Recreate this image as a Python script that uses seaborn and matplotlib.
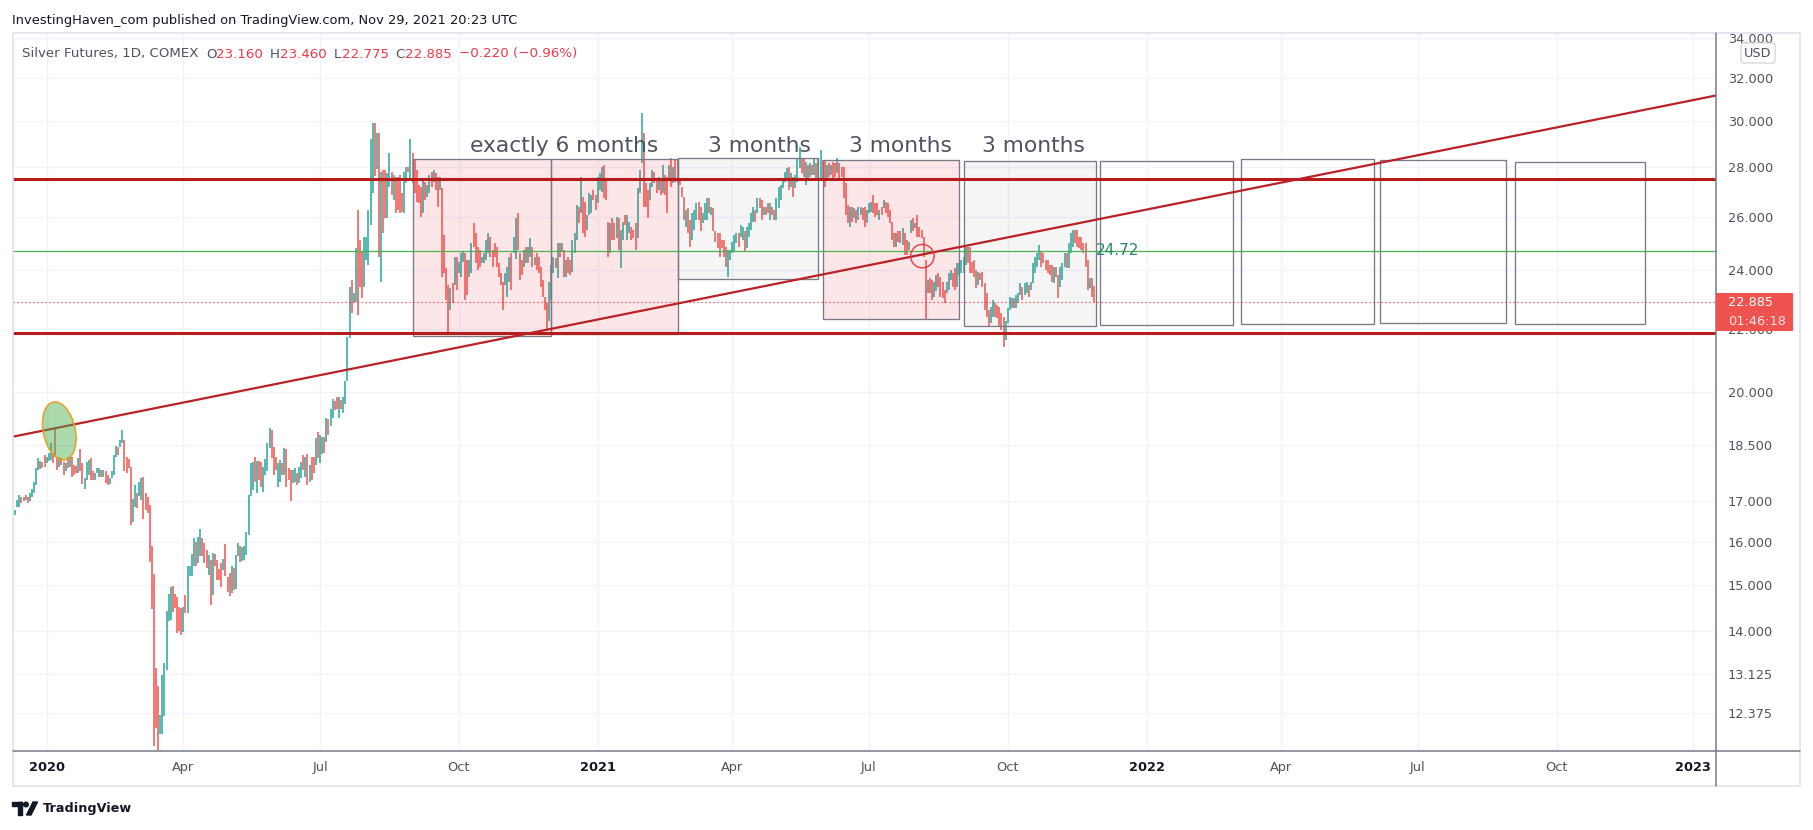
"""
Silver futures daily chart (TradingView snapshot) with the 3-month boxes,
support / resistance levels and the rising trendline.
"""

import numpy as np
import pandas as pd
import matplotlib
matplotlib.use("Agg")
import matplotlib.pyplot as plt
import matplotlib.patches as mpatches
import matplotlib.transforms as mtransforms
from matplotlib.lines import Line2D
from matplotlib.ticker import FixedLocator, NullLocator
import seaborn as sns

# ── Data: daily bars (open, close) ──────────────────────────────────────
dec19 = [(16.65, 16.78), (16.86, 17.03), (16.86, 17.15), (17.10, 16.95), (17.00, 17.11),
         (17.15, 17.03), (17.10, 16.94), (17.00, 17.20), (17.11, 17.30), (17.20, 17.50),
         (17.42, 17.86), (17.81, 18.12), (18.05, 17.83), (17.85, 18.03), (18.20, 17.90)]
jan20 = [(17.99, 18.17), (18.04, 18.26), (18.08, 18.54), (18.26, 17.99), (18.95, 18.15),
         (18.17, 17.81), (17.90, 18.17), (18.12, 17.95), (18.03, 17.68), (17.77, 17.99),
         (18.17, 17.86), (17.90, 18.17), (18.17, 17.63), (17.95, 17.68), (17.92, 17.74),
         (17.72, 18.12), (18.38, 17.77), (17.99, 17.44), (17.30, 17.59), (17.55, 18.03),
         (17.68, 18.08), (18.12, 17.55), (17.77, 17.55)]
feb20 = [(17.55, 17.72), (17.72, 17.86), (17.63, 17.86), (17.81, 17.63), (17.63, 17.81),
         (17.77, 17.46), (17.68, 17.42), (17.45, 17.60), (17.59, 17.78), (17.68, 18.21),
         (18.15, 18.47), (18.44, 18.21), (18.44, 18.63), (18.54, 18.91), (18.63, 17.77),
         (18.17, 17.72), (18.10, 17.85), (17.90, 16.41), (16.47, 17.05), (16.86, 17.42)]
mar20 = [(17.20, 16.82), (17.14, 17.48), (17.03, 17.59), (17.63, 16.55), (17.21, 16.78),
         (17.11, 16.69), (16.90, 15.53), (15.90, 14.47), (15.25, 11.78), (13.24, 12.11),
         (12.90, 11.72), (12.01, 12.35), (12.01, 13.11), (12.32, 13.34), (13.20, 14.43),
         (14.20, 14.80), (14.23, 14.95), (14.97, 14.41), (14.80, 14.49), (14.72, 13.95),
         (14.52, 14.00), (14.48, 13.92)]
apr20 = [(13.98, 14.50), (14.78, 14.38), (14.38, 15.42), (15.20, 15.43), (15.19, 15.70),
         (15.42, 16.08), (15.98, 15.42), (15.50, 16.10), (15.65, 16.30), (16.08, 15.65),
         (15.96, 15.50), (15.80, 15.38), (15.22, 15.68), (15.57, 14.56), (14.78, 15.73),
         (15.71, 15.42), (15.57, 15.11), (15.37, 15.11), (15.50, 14.95), (15.33, 15.60),
         (15.94, 15.19), (15.17, 14.85)]
may20 = [(15.26, 14.76), (14.81, 15.42), (15.38, 14.88), (14.90, 15.69), (15.65, 15.96),
         (15.90, 15.51), (15.55, 15.88), (15.57, 15.90), (15.69, 16.24), (16.16, 17.15),
         (17.13, 17.99), (17.28, 18.03), (18.17, 17.50), (17.20, 18.05), (18.05, 17.55),
         (18.03, 17.35), (17.24, 17.88), (17.68, 18.10), (17.77, 18.54), (18.40, 18.95),
         (18.91, 18.12)]
jun20 = [(18.44, 17.68), (18.17, 17.81), (17.37, 17.99), (17.50, 18.08), (17.99, 17.68),
         (17.68, 18.40), (18.38, 17.37), (17.86, 17.55), (17.81, 17.01), (17.46, 17.81),
         (17.50, 17.86), (17.72, 17.42), (17.46, 17.90), (17.59, 18.03), (18.20, 17.81),
         (17.63, 18.17), (18.24, 17.42), (17.50, 17.95), (18.17, 17.55), (18.17, 17.72),
         (17.95, 18.67), (18.84, 18.12)]
jul20 = [(18.01, 18.77), (18.24, 18.72), (18.72, 18.26), (18.58, 19.24), (19.21, 18.77),
         (19.02, 19.50), (19.25, 19.80), (19.74, 19.47), (19.85, 19.51), (19.25, 19.85),
         (19.78, 19.50), (19.38, 19.87), (19.67, 20.35), (20.33, 21.74), (21.69, 23.43),
         (23.66, 22.51), (22.85, 23.20), (22.90, 24.81), (26.27, 22.45), (25.12, 23.43),
         (24.68, 23.02), (23.43, 25.24), (24.38, 25.24)]
aug20 = [(24.20, 26.27), (25.69, 29.23), (26.93, 29.90), (29.90, 27.65), (27.95, 29.46),
         (29.46, 24.50), (23.60, 27.82), (27.89, 25.37), (27.89, 25.94), (25.94, 27.75),
         (27.20, 28.59), (27.82, 26.87), (26.67, 27.68), (27.61, 26.14), (27.61, 26.27),
         (27.68, 26.14), (26.93, 26.20), (26.14, 27.82), (27.34, 28.03), (28.03, 27.82),
         (27.48, 29.23)]
sep20 = [(28.59, 27.34), (28.31, 26.93), (27.89, 26.60), (27.27, 26.53), (27.20, 26.01),
         (26.14, 27.48), (27.41, 26.67), (26.80, 27.27), (26.93, 27.68), (27.82, 27.20),
         (27.41, 27.89), (27.75, 27.06), (27.61, 26.40), (27.06, 27.61), (27.13, 23.78),
         (25.31, 23.90), (24.08, 22.96), (23.49, 21.85), (22.62, 23.37), (23.55, 22.85),
         (23.49, 24.50), (24.50, 23.31)]
oct20 = [(23.90, 24.32), (23.78, 24.62), (24.32, 24.68), (24.62, 22.96), (24.38, 23.14),
         (23.78, 24.38), (23.90, 24.99), (25.75, 24.87), (25.37, 24.26), (24.87, 24.02),
         (24.75, 24.14), (24.26, 24.50), (24.26, 24.62), (24.38, 25.12), (24.62, 25.37),
         (25.24, 24.50), (24.75, 24.14), (24.99, 24.50), (24.87, 24.14), (24.26, 23.78),
         (23.90, 23.49), (23.60, 22.62)]
nov20 = [(23.49, 23.90), (23.08, 24.14), (23.60, 24.50), (24.62, 23.31), (24.62, 25.24),
         (24.40, 25.94), (26.14, 24.75), (24.62, 23.66), (24.38, 23.84), (24.14, 24.75),
         (24.87, 24.26), (24.26, 24.87), (24.50, 25.18), (24.87, 24.14), (24.20, 24.50),
         (24.62, 24.02), (24.50, 23.90), (24.14, 23.43), (23.66, 23.08), (23.08, 22.62),
         (22.85, 21.96)]
dec20 = [(22.24, 23.60), (22.96, 24.20), (23.90, 24.50), (24.44, 24.08), (23.72, 24.99),
         (24.99, 24.50), (24.68, 24.99), (24.75, 23.78), (23.78, 24.38), (24.50, 23.90),
         (24.38, 23.84), (23.96, 25.12), (24.62, 25.37), (25.12, 26.47), (26.40, 25.75),
         (26.14, 27.61), (26.80, 25.37), (26.60, 25.24), (25.50, 26.07), (26.07, 26.93),
         (26.14, 26.87), (27.06, 26.67), (26.87, 26.27)]
jan21 = [(26.53, 27.61), (27.06, 27.75), (26.99, 28.03), (28.10, 26.73), (27.48, 26.67),
         (25.82, 24.50), (24.62, 25.75), (25.94, 25.12), (25.75, 25.12), (25.18, 26.01),
         (25.94, 24.75), (24.08, 25.50), (25.12, 25.82), (26.07, 25.69), (25.12, 26.07),
         (25.37, 25.82), (25.63, 25.12), (25.50, 25.18), (25.75, 24.75), (25.18, 27.13),
         (26.93, 27.89)]
feb21 = [(28.17, 30.36), (29.46, 26.40), (27.34, 26.40), (27.06, 25.94), (26.67, 27.34),
         (27.20, 27.89), (27.82, 27.34), (27.48, 26.93), (27.06, 27.61), (27.48, 26.87),
         (26.93, 28.10), (27.68, 26.87), (27.61, 26.14), (27.48, 28.10), (28.38, 27.20),
         (27.34, 28.03), (28.31, 27.41), (28.31, 27.34), (27.48, 27.27), (27.20, 26.80)]
mar21 = [(26.80, 25.88), (25.63, 26.27), (26.33, 25.37), (25.88, 24.87), (25.12, 26.14),
         (25.50, 26.27), (25.88, 26.53), (26.60, 25.88), (26.40, 25.44), (25.75, 26.14),
         (25.88, 26.53), (25.88, 26.73), (26.73, 26.14), (26.07, 26.40), (26.33, 25.44),
         (25.44, 25.06), (25.37, 24.81), (25.37, 24.50), (25.12, 24.81), (25.12, 24.50),
         (24.87, 24.14), (23.78, 24.75), (24.38, 24.75)]
apr21 = [(24.62, 25.06), (24.68, 25.31), (25.00, 25.37), (25.37, 24.87), (25.24, 25.69),
         (25.12, 25.63), (25.44, 24.68), (24.81, 25.63), (25.24, 25.75), (25.50, 26.14),
         (25.82, 26.40), (26.27, 25.82), (26.14, 26.73), (26.73, 26.33), (26.67, 25.88),
         (26.07, 26.40), (26.40, 26.07), (26.53, 26.14), (25.88, 26.53), (26.40, 26.07),
         (26.27, 25.88), (25.88, 26.73)]
may21 = [(26.33, 27.20), (26.67, 27.27), (27.13, 27.55), (27.41, 27.82), (27.48, 27.96),
         (28.03, 27.06), (27.20, 27.75), (27.61, 26.80), (27.13, 27.68), (27.41, 28.38),
         (27.96, 28.87), (28.38, 27.75), (28.38, 27.61), (27.27, 28.24), (28.10, 27.48),
         (27.61, 28.17), (28.10, 27.68), (27.68, 28.38), (28.17, 27.55), (27.55, 28.38),
         (27.55, 28.73)]
jun21 = [(28.31, 27.48), (28.31, 27.20), (27.48, 28.10), (28.17, 27.61), (27.68, 28.10),
         (28.24, 27.55), (28.17, 27.61), (27.75, 28.38), (28.17, 27.55), (28.03, 27.61),
         (28.03, 26.73), (27.34, 26.07), (26.47, 25.75), (25.63, 26.40), (26.40, 25.82),
         (25.94, 26.33), (26.27, 25.75), (25.88, 26.40), (26.07, 26.40), (26.33, 25.88),
         (26.40, 25.63), (25.75, 26.27)]
jul21 = [(26.14, 26.53), (26.20, 26.60), (26.87, 26.14), (26.53, 26.01), (26.53, 26.07),
         (25.88, 26.27), (26.40, 26.07), (26.33, 26.67), (26.60, 26.14), (26.53, 26.01),
         (26.27, 25.75), (25.82, 25.12), (25.37, 24.87), (24.87, 25.37), (25.44, 25.06),
         (25.44, 25.00), (24.93, 25.56), (25.37, 24.56), (25.12, 24.56), (24.75, 25.06),
         (25.37, 25.88), (25.94, 25.44)]
aug21 = [(25.56, 25.75), (26.07, 25.24), (25.63, 25.24), (25.50, 25.18), (25.24, 24.50),
         (24.38, 22.29), (23.20, 23.66), (23.72, 23.20), (23.66, 22.96), (23.08, 23.60),
         (23.26, 23.84), (23.90, 23.43), (23.78, 23.08), (23.60, 23.02), (23.31, 22.85),
         (23.20, 23.60), (23.31, 23.90), (23.66, 24.02), (23.90, 23.43), (24.08, 23.31),
         (23.43, 24.26), (23.84, 24.26)]
sep21 = [(23.90, 24.38), (23.90, 24.50), (24.20, 24.87), (24.87, 24.26), (24.87, 23.90),
         (24.32, 23.90), (24.38, 23.78), (24.02, 23.37), (23.49, 23.96), (23.90, 23.66),
         (23.96, 23.43), (23.55, 22.62), (23.20, 22.40), (22.62, 22.07), (22.18, 22.74),
         (22.40, 22.96), (22.85, 22.40), (22.79, 22.35), (22.74, 22.07), (22.51, 21.96),
         (22.40, 21.42), (21.63, 22.24)]
oct21 = [(22.18, 22.68), (22.62, 23.08), (22.68, 23.02), (23.02, 22.68), (22.68, 23.14),
         (22.85, 23.20), (23.14, 23.55), (23.43, 22.96), (23.14, 23.55), (23.20, 23.60),
         (23.49, 23.08), (23.31, 23.60), (23.55, 24.26), (23.90, 24.50), (24.14, 24.62),
         (24.38, 24.93), (24.68, 24.14), (24.62, 24.26), (24.38, 24.02), (24.38, 23.90),
         (24.20, 23.84)]
nov21 = [(24.20, 23.60), (23.55, 24.14), (24.14, 23.78), (23.84, 23.02), (23.43, 24.14),
         (23.66, 24.26), (24.14, 24.62), (24.62, 24.08), (24.08, 24.99), (24.62, 25.37),
         (24.87, 25.50), (25.50, 24.99), (25.50, 24.87), (25.24, 24.81), (25.24, 24.75),
         (24.99, 24.62), (24.99, 24.14), (24.38, 23.31), (23.37, 23.72), (23.72, 23.08),
         (23.46, 22.885)]

first_bar_date = "2019-12-11"

# levels and drawings
resistance = 27.50
support = 21.85
marked_level = 24.72
last_close = 22.885
trend_dates = ["2019-12-10", "2023-01-17"]
trend_prices = [18.72, 31.18]

box_start = ["2020-09-01", "2020-12-02", "2021-02-24", "2021-06-01", "2021-09-02",
             "2021-12-02", "2022-03-07", "2022-06-07", "2022-09-05"]
box_end = ["2020-12-02", "2021-02-24", "2021-05-28", "2021-08-31", "2021-11-30",
           "2022-03-01", "2022-06-02", "2022-08-30", "2022-11-30"]
box_top = [28.34, 28.34, 28.38, 28.29, 28.27, 28.27, 28.34, 28.29, 28.24]
box_bottom = [21.77, 21.83, 23.71, 22.32, 22.08, 22.11, 22.15, 22.19, 22.14]
box_kind = ["pink", "pink", "gray", "pink", "gray", "none", "none", "none", "none"]

labels = ["exactly 6 months", "3 months", "3 months", "3 months"]
label_dates = ["2020-12-10", "2021-04-20", "2021-07-22", "2021-10-19"]
label_price = 28.65

ellipse_date, ellipse_price = "2020-01-09", 18.88
circle_date, circle_price = "2021-08-05", 24.52

y_ticks = [34, 32, 30, 28, 26, 24, 22, 20, 18.5, 17, 16, 15, 14, 13.125, 12.375]

# ── Style ────────────────────────────────────────────────────
sns.set_style("white")
plt.rcParams["font.family"] = ["DejaVu Sans"]

UP, DOWN = "#26a69a", "#ef5350"
DARK_RED = "#b71c1c"
TEXT = "#50535e"
GRID = "#f0f3fa"
BORDER = "#787b86"

W, H = 1813, 830
fig = plt.figure(figsize=(W / 100, H / 100), dpi=100)
fig.patch.set_facecolor("white")


def fx(px):
    return px / W


def fy(py):
    return 1 - py / H


def bday(d):
    return int(np.busday_count(np.datetime64("2020-01-01"), np.datetime64(d)))


ax = fig.add_axes([fx(13), fy(751), fx(1716) - fx(13), fy(33) - fy(751)])
ax.set_facecolor("white")

# ── Candles ──────────────────────────────────────────────────
bars = (dec19 + jan20 + feb20 + mar20 + apr20 + may20 + jun20 + jul20 + aug20 + sep20
        + oct20 + nov20 + dec20 + jan21 + feb21 + mar21 + apr21 + may21 + jun21 + jul21
        + aug21 + sep21 + oct21 + nov21)
opens = np.array([b[0] for b in bars])
closes = np.array([b[1] for b in bars])
dates = pd.bdate_range(first_bar_date, periods=len(bars))
xs = np.busday_count(np.datetime64("2020-01-01"), dates.values.astype("datetime64[D]"))
up = closes >= opens
lo, hi = np.minimum(opens, closes), np.maximum(opens, closes)
ax.vlines(xs[up], lo[up], hi[up], color=UP, lw=1.1, zorder=3)
ax.vlines(xs[~up], lo[~up], hi[~up], color=DOWN, lw=1.1, zorder=3)

# ── Boxes ────────────────────────────────────────────────────
faces = {"pink": (0.949, 0.212, 0.271, 0.12), "gray": (0.471, 0.482, 0.525, 0.07), "none": "none"}
for s, e, t, b, k in zip(box_start, box_end, box_top, box_bottom, box_kind):
    x0, x1 = bday(s), bday(e)
    ax.add_patch(mpatches.Rectangle((x0, b), x1 - x0, t - b, facecolor=faces[k],
                                    edgecolor=BORDER, lw=0.95, zorder=4))

# ── Levels and trendline ─────────────────────────────────────
ax.axhline(marked_level, color="#4caf50", lw=0.9, zorder=5)
ax.axhline(last_close, color="#f23645", lw=0.9, ls=(0, (1, 2.2)), zorder=5)
ax.axhline(resistance, color=DARK_RED, lw=2.2, zorder=6)
ax.axhline(support, color=DARK_RED, lw=2.2, zorder=6)
sns.lineplot(x=[bday(d) for d in trend_dates], y=trend_prices, ax=ax,
             color="#ba2026", lw=1.6, zorder=6, legend=False)

ax.text(bday("2021-11-30"), marked_level, "24.72", color="#23876a", fontsize=11,
        ha="left", va="center", zorder=7)
for txt, d in zip(labels, label_dates):
    ax.text(bday(d), label_price, txt, color=TEXT, fontsize=15.7, ha="center",
            va="baseline", zorder=7)

# ── Axes ─────────────────────────────────────────────────────
ax.set_yscale("log")
ax.set_xlim(-16.02, 793.8)
ax.set_ylim(11.70, 34.23)
ax.yaxis.set_major_locator(FixedLocator(y_ticks))
ax.yaxis.set_minor_locator(NullLocator())
ax.set_yticklabels([f"{v:.3f}" for v in y_ticks])
ax.yaxis.tick_right()
ax.tick_params(axis="y", length=0, pad=8.6, labelsize=9.3, labelcolor=TEXT)

tick_months = pd.date_range("2020-01-01", "2023-01-01", freq="QS")
ax.set_xticks([bday(d.strftime("%Y-%m-%d")) for d in tick_months])
ax.set_xticklabels([str(d.year) if d.month == 1 else d.strftime("%b") for d in tick_months])
ax.tick_params(axis="x", length=0, pad=7.5, labelsize=9.3, labelcolor=TEXT)
for lbl, d in zip(ax.get_xticklabels(), tick_months):
    if d.month == 1:
        lbl.set_fontweight("bold")
        lbl.set_color("#131722")
ax.set_xlabel("")
ax.set_ylabel("")
ax.grid(True, color=GRID, lw=1.0)
ax.set_axisbelow(True)
for sp in ax.spines.values():
    sp.set_visible(False)

# ── Ellipse and circle (pixel sized, anchored at data points) ────────────
ident = mtransforms.IdentityTransform()
cx, cy = ax.transData.transform((bday(ellipse_date), ellipse_price))
ax.add_patch(mpatches.Ellipse((cx, cy), 32, 59, angle=12, transform=ident,
                              facecolor=(0.298, 0.686, 0.314, 0.47),
                              edgecolor="#e6a11f", lw=1.1, zorder=8))
cx, cy = ax.transData.transform((bday(circle_date) + 0.4, circle_price))
ax.add_patch(mpatches.Circle((cx, cy), 11.7, transform=ident, facecolor="none",
                             edgecolor="#f23645", lw=1.0, zorder=8))

# ── Frame, separators ────────────────────────────────────────
# white strip above the pane cuts the top price label (34.000) like the original
fig.add_artist(mpatches.Rectangle((1717, H - 34), 82, 34, transform=ident,
                                  facecolor="white", edgecolor="none", zorder=1))
fig.add_artist(mpatches.Rectangle((fx(12.5), fy(786)), fx(1800) - fx(12.5), fy(33) - fy(786),
                                  transform=fig.transFigure, fill=False,
                                  edgecolor="#e0e3eb", lw=1.2, zorder=2))
fig.add_artist(Line2D([fx(1716), fx(1716)], [fy(33), fy(786)], transform=fig.transFigure,
                      color=BORDER, lw=1.1, zorder=2))
fig.add_artist(Line2D([fx(13), fx(1800)], [fy(751), fy(751)], transform=fig.transFigure,
                      color=BORDER, lw=1.1, zorder=2))

# last price badge on the price scale
_, py = ax.transData.transform((0, last_close))
fig.add_artist(mpatches.Rectangle((1716, py - 28.7), 77, 38.4, transform=ident,
                                  facecolor="#ef5350", edgecolor="none", zorder=2))
fig.text(1728, py, f"{last_close:.3f}", transform=ident, color="white", fontsize=9.3,
         va="center", ha="left")
fig.text(1728, py - 19, "01:46:18", transform=ident, color="#ffe4e4", fontsize=9.3,
         va="center", ha="left")

# USD badge
fig.add_artist(mpatches.FancyBboxPatch((1741, H - 63), 34, 20, transform=ident,
                                       boxstyle="round,pad=0,rounding_size=3",
                                       facecolor="white", edgecolor="#d1d4dc", lw=0.9,
                                       zorder=2))
fig.text(1758, H - 53.5, "USD", transform=ident, color=TEXT, fontsize=9.3,
         ha="center", va="center")

# ── Header and legend ────────────────────────────────────────
fig.text(fx(12), fy(20.5), "InvestingHaven_com published on TradingView.com, Nov 29, 2021 20:23 UTC",
         color="#131722", fontsize=9.4, ha="left", va="center")
legend_parts = [(22, "Silver Futures, 1D, COMEX", TEXT), (206, "O", TEXT), (216, "23.160", "#f23645"),
                (270, "H", TEXT), (280, "23.460", "#f23645"), (334, "L", TEXT),
                (342, "22.775", "#f23645"), (395, "C", TEXT), (405, "22.885", "#f23645"),
                (459, "\u22120.220 (\u22120.96%)", "#f23645")]
for px_, s, c in legend_parts:
    fig.text(fx(px_), fy(54), s, color=c, fontsize=9.6, ha="left", va="center")

# TradingView logo
LOGO = "#131722"
fig.add_artist(mpatches.Rectangle((12, H - 806), 10, 4, transform=ident, color=LOGO))
fig.add_artist(mpatches.Rectangle((17.5, H - 815), 4.5, 13, transform=ident, color=LOGO))
fig.add_artist(mpatches.Circle((26, H - 804.5), 2.3, transform=ident, color=LOGO))
fig.add_artist(mpatches.Polygon([(26.5, H - 815), (31, H - 815), (37.5, H - 802), (33, H - 802)],
                                closed=True, transform=ident, color=LOGO))
fig.text(43, H - 808, "TradingView", transform=ident, color=LOGO, fontsize=9.2,
         fontweight="bold", ha="left", va="center")

fig.savefig("out.png", dpi=100, facecolor="white")
plt.close(fig)
